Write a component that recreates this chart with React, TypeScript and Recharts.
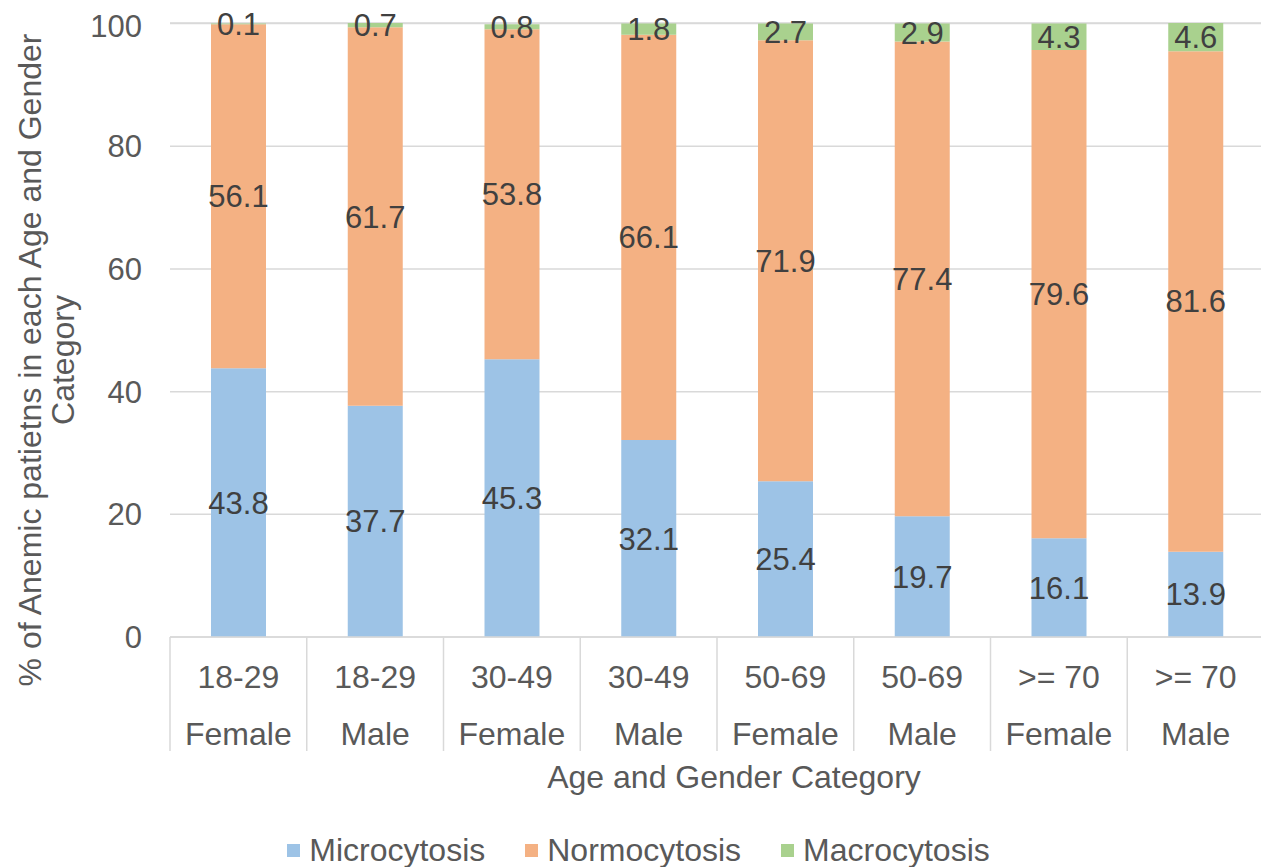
import { Bar, BarChart, CartesianGrid, LabelList, Legend, XAxis, YAxis } from "recharts";

const ageGroups = ["18-29", "18-29", "30-49", "30-49", "50-69", "50-69", ">= 70", ">= 70"];
const genders = ["Female", "Male", "Female", "Male", "Female", "Male", "Female", "Male"];
const microcytosis = [43.8, 37.7, 45.3, 32.1, 25.4, 19.7, 16.1, 13.9];
const normocytosis = [56.1, 61.7, 53.8, 66.1, 71.9, 77.4, 79.6, 81.6];
const macrocytosis = [0.1, 0.7, 0.8, 1.8, 2.7, 2.9, 4.3, 4.6];
const yTicks = [0, 20, 40, 60, 80, 100];

const series = [
  { key: "micro", name: "Microcytosis", color: "#9dc3e6" },
  { key: "normo", name: "Normocytosis", color: "#f4b183" },
  { key: "macro", name: "Macrocytosis", color: "#a9d18e" },
];

const data = ageGroups.map((age, i) => ({
  cat: `${age} ${genders[i]} ${i}`,
  age,
  gender: genders[i],
  micro: microcytosis[i],
  normo: normocytosis[i],
  macro: macrocytosis[i],
}));

const FONT = "'Liberation Sans', Arial, sans-serif";
const AXIS_TEXT = "#595959";
const LINE = "#d9d9d9";

function CategoryTick(props: any) {
  const { x, y, payload, index } = props;
  const half = payload?.offset || 1094 / 16;
  const d = data[index];
  return (
    <g>
      <line x1={x - half} y1={y} x2={x - half} y2={y + 114} stroke={LINE} strokeWidth={1.5} />
      {index === data.length - 1 && (
        <line x1={x + half} y1={y} x2={x + half} y2={y + 114} stroke={LINE} strokeWidth={1.5} />
      )}
      <text x={x} y={y + 51} textAnchor="middle" fill={AXIS_TEXT} fontSize={32} fontFamily={FONT}>
        {d.age}
      </text>
      <text x={x} y={y + 108} textAnchor="middle" fill={AXIS_TEXT} fontSize={32} fontFamily={FONT}>
        {d.gender}
      </text>
    </g>
  );
}

const yTitle = () => (
  <g fill={AXIS_TEXT} fontSize={32} fontFamily={FONT}>
    <text x={22} y={352} textAnchor="middle" dominantBaseline="central" transform="rotate(-90 22 352)">
      % of Anemic patietns in each Age and Gender
    </text>
    <text x={55} y={352} textAnchor="middle" dominantBaseline="central" transform="rotate(-90 55 352)">
      Category
    </text>
  </g>
);

const xTitle = () => (
  <text x={726} y={780} textAnchor="middle" fill={AXIS_TEXT} fontSize={32} fontFamily={FONT}>
    Age and Gender Category
  </text>
);

const LegendContent = () => (
  <div style={{ display: "flex", justifyContent: "center", gap: 40, fontFamily: FONT }}>
    {series.map((s) => (
      <div key={s.key} style={{ display: "flex", alignItems: "center", gap: 9 }}>
        <span style={{ width: 13, height: 13, background: s.color, display: "inline-block" }} />
        <span style={{ color: AXIS_TEXT, fontSize: 32 }}>{s.name}</span>
      </div>
    ))}
  </div>
);

export default function App() {
  return (
    <BarChart
      width={1261}
      height={859}
      data={data}
      margin={{ top: 15, right: 5, left: 0, bottom: 80 }}
      barSize={55}
      style={{ fontFamily: FONT }}
    >
      <CartesianGrid horizontal vertical={false} stroke={LINE} strokeWidth={1.5} />
      <XAxis
        dataKey="cat"
        height={150}
        interval={0}
        tickSize={0}
        tickMargin={0}
        tickLine={false}
        axisLine={{ stroke: LINE, strokeWidth: 1.5 }}
        tick={<CategoryTick />}
        label={{ content: xTitle }}
      />
      <YAxis
        width={162}
        domain={[0, 100]}
        ticks={yTicks}
        tickSize={0}
        tickMargin={28}
        axisLine={false}
        tickLine={false}
        tick={{ fill: AXIS_TEXT, fontSize: 31, fontFamily: FONT }}
        label={{ content: yTitle }}
      />
      <Legend
        verticalAlign="middle"
        align="center"
        layout="horizontal"
        content={<LegendContent />}
        wrapperStyle={{ top: 824, left: 0, width: 1261 }}
      />
      {series.map((s) => (
        <Bar key={s.key} dataKey={s.key} name={s.name} stackId="a" fill={s.color} isAnimationActive={false}>
          <LabelList dataKey={s.key} position="center" fill="#404040" fontSize={31} fontFamily={FONT} />
        </Bar>
      ))}
    </BarChart>
  );
}
